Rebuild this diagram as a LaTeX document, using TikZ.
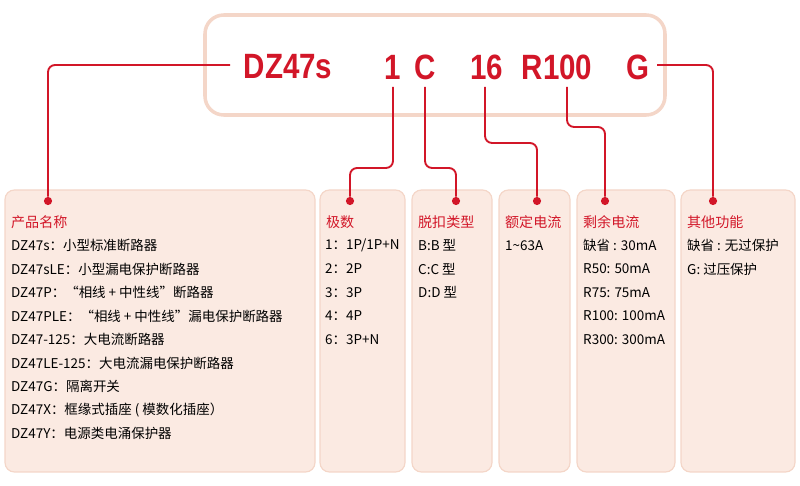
\documentclass[tikz,border=0pt]{standalone}
\usepackage{fontspec}
\setmainfont{Liberation Sans}
\newfontfamily\cjk{Noto Sans CJK SC}
\usetikzlibrary{positioning}
\definecolor{codered}{RGB}{210,22,40}
\definecolor{peachfill}{RGB}{251,234,226}
\definecolor{peachline}{RGB}{244,214,200}
\newcommand{\narrow}[1]{\scalebox{0.84}[1]{#1}}
\begin{document}
\begin{tikzpicture}[
    x=0.03cm, y=-0.03cm,
    infobox/.style={draw=peachline, line width=1pt, fill=peachfill, rounded corners=8pt, anchor=north west},
    code/.style={text=codered, font=\fontsize{30}{30}\selectfont\bfseries, inner sep=0pt},
    link/.style={codered, line width=1.6pt, rounded corners=6pt},
    pin/.style={circle, fill=codered, inner sep=0pt, minimum size=7pt},
    title/.style={anchor=west, text=codered, font=\cjk\fontsize{12}{12}\selectfont},
    entry/.style={anchor=west, font=\cjk\fontsize{11.5}{11.5}\selectfont, inner sep=0pt}
  ]
  \useasboundingbox (0,0) rectangle (800,486);
  % top frame
  \draw[peachline, line width=3pt, fill=white, rounded corners=16pt] (205,15) rectangle (665,115);
  \node[code] (name) at (288,67) {\narrow{DZ47s}};
  \node[code] (poles) at (393,67) {\narrow{1}};
  \node[code] (curve) at (425,67) {\narrow{C}};
  \node[code] (rated) at (487,67) {\narrow{16}};
  \node[code] (resid) at (557,67) {\narrow{R100}};
  \node[code] (func) at (638,67) {\narrow{G}};

  % boxes
  \draw[infobox] (5,190) rectangle (315,472);
  \draw[infobox] (320,190) rectangle (405,472);
  \draw[infobox] (412,190) rectangle (492,472);
  \draw[infobox] (499,190) rectangle (570,472);
  \draw[infobox] (577,190) rectangle (675,472);
  \draw[infobox] (681,190) rectangle (795,472);

  \node[pin] (p1) at (48,201) {};
  \node[pin] (p2) at (350,201) {};
  \node[pin] (p3) at (456,201) {};
  \node[pin] (p4) at (537,201) {};
  \node[pin] (p5) at (605,201) {};
  \node[pin] (p6) at (713,201) {};

  % connectors
  \draw[link] (230,65) -- (48,65) -- (p1);
  \draw[link] (393,87) -- (393,168) -- (350,168) -- (p2);
  \draw[link] (425,87) -- (425,168) -- (456,168) -- (p3);
  \draw[link] (485,87) -- (485,143) -- (537,143) -- (p4);
  \draw[link] (567,87) -- (567,127) -- (605,127) -- (p5);
  \draw[link] (657,65) -- (713,65) -- (p6);

  % texts
  \node[title] at (7,222) {产品名称};
  \foreach \t [count=\i] in {DZ47s：小型标准断路器, DZ47sLE：小型漏电保护断路器,
      DZ47P：“相线 + 中性线”断路器, DZ47PLE：“相线 + 中性线”漏电保护断路器,
      DZ47-125：大电流断路器, DZ47LE-125：大电流漏电保护断路器,
      DZ47G：隔离开关, DZ47X：框缘式插座 ( 模数化插座）, DZ47Y：电源类电涌保护器}
    \node[entry] at (11,222+\i*23.5) {\t};

  \node[title] at (322,222) {极数};
  \foreach \t [count=\i] in {1：1P/1P+N, 2：2P, 3：3P, 4：4P, 6：3P+N}
    \node[entry] at (325,222+\i*23.5) {\t};

  \node[title] at (414,222) {脱扣类型};
  \foreach \t [count=\i] in {B:B 型, C:C 型, D:D 型}
    \node[entry] at (418,222+\i*23.5) {\t};

  \node[title] at (501,222) {额定电流};
  \node[entry] at (505,245.5) {1\textasciitilde63A};

  \node[title] at (579,222) {剩余电流};
  \foreach \t [count=\i] in {缺省 : 30mA, R50: 50mA, R75: 75mA, R100: 100mA, R300: 300mA}
    \node[entry] at (583,222+\i*23.5) {\t};

  \node[title] at (683,222) {其他功能};
  \foreach \t [count=\i] in {缺省 : 无过保护, G: 过压保护}
    \node[entry] at (687,222+\i*23.5) {\t};
\end{tikzpicture}
\end{document}
